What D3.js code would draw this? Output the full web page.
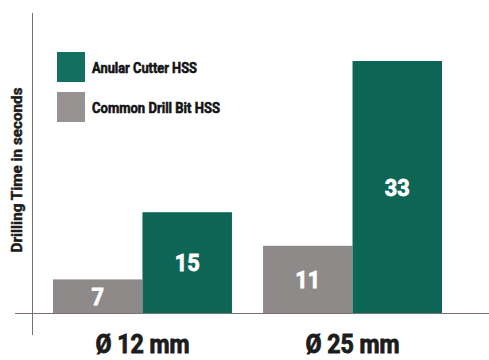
<!DOCTYPE html>
<html>
<head>
<meta charset="utf-8">
<script src="https://cdn.jsdelivr.net/npm/d3@7/dist/d3.min.js"></script>
<style>
  html, body { margin: 0; padding: 0; background: #ffffff; }
  svg { display: block; }
  text { font-family: Roboto, "Open Sans", sans-serif; font-weight: 700; }
</style>
</head>
<body>
<div id="chart"></div>
<script>
// Drilling time per hole diameter, two tool types
const categories = ["Ø 12 mm", "Ø 25 mm"];
const seriesNames = ["Common Drill Bit HSS", "Anular Cutter HSS"];
const drillBitSeconds = [7, 11];
const cutterSeconds = [15, 33];
const legendOrder = ["Anular Cutter HSS", "Common Drill Bit HSS"];
const yTitle = "Drilling Time in seconds";

const W = 489, H = 360;
const colors = { "Anular Cutter HSS": "#0d6655", "Common Drill Bit HSS": "#8e8a8a" };
const swatchColors = { "Anular Cutter HSS": "#137060", "Common Drill Bit HSS": "#979393" };

const rows = categories.map((c, i) => ({
  category: c,
  values: [
    { series: seriesNames[0], value: drillBitSeconds[i] },
    { series: seriesNames[1], value: cutterSeconds[i] }
  ]
}));

const svg = d3.select("#chart").append("svg")
  .attr("width", W).attr("height", H);

const baseY = 313;
const x0 = d3.scaleBand().domain(categories).range([53, 442])
  .paddingInner(0.148).paddingOuter(0);
const x1 = d3.scaleBand().domain(seriesNames).range([0, x0.bandwidth()]).padding(0);
const y = d3.scaleLinear().domain([3, 33]).range([baseY, 61]);

// bars
const groups = svg.append("g").selectAll("g").data(rows).join("g")
  .attr("transform", d => `translate(${x0(d.category)},0)`);

groups.selectAll("rect").data(d => d.values).join("rect")
  .attr("x", d => x1(d.series))
  .attr("y", d => y(d.value))
  .attr("width", x1.bandwidth())
  .attr("height", d => baseY - y(d.value))
  .attr("fill", d => colors[d.series]);

// value labels, centred in each bar
groups.selectAll("text").data(d => d.values).join("text")
  .attr("x", d => x1(d.series) + x1.bandwidth() / 2)
  .attr("y", d => (y(d.value) + baseY) / 2)
  .attr("dy", "0.36em")
  .attr("text-anchor", "middle")
  .attr("fill", "#ffffff")
  .attr("stroke", "#ffffff")
  .attr("stroke-width", 0.8)
  .attr("font-size", 24)
  .attr("textLength", d => String(d.value).length * 12.5)
  .attr("lengthAdjust", "spacingAndGlyphs")
  .text(d => d.value);

// axes lines
svg.append("line")
  .attr("x1", 15).attr("x2", W).attr("y1", baseY + 0.5).attr("y2", baseY + 0.5)
  .attr("stroke", "#7c716e").attr("stroke-width", 1);
svg.append("line")
  .attr("x1", 32.5).attr("x2", 32.5).attr("y1", 13).attr("y2", 335)
  .attr("stroke", "#7c716e").attr("stroke-width", 1);

// category labels via bottom axis (no line / ticks)
const xAxis = svg.append("g")
  .attr("transform", `translate(0,${baseY})`)
  .call(d3.axisBottom(x0).tickSize(0).tickPadding(0));
xAxis.select(".domain").remove();
xAxis.selectAll("text")
  .attr("y", 40)
  .attr("dy", 0)
  .attr("fill", "#1c1c1c")
  .attr("stroke", "#1c1c1c")
  .attr("stroke-width", 0.9)
  .attr("font-family", "Roboto, sans-serif")
  .attr("font-weight", 700)
  .attr("font-size", 26)
  .attr("textLength", 94)
  .attr("lengthAdjust", "spacingAndGlyphs");

// y-axis title
svg.append("text")
  .attr("transform", "translate(22,170) rotate(-90)")
  .attr("text-anchor", "middle")
  .attr("fill", "#1c1c1c")
  .attr("stroke", "#1c1c1c")
  .attr("stroke-width", 0.5)
  .attr("font-size", 14)
  .attr("textLength", 165)
  .attr("lengthAdjust", "spacingAndGlyphs")
  .text(yTitle);

// legend
const legendWidths = { "Anular Cutter HSS": 105, "Common Drill Bit HSS": 128 };
const legend = svg.append("g").selectAll("g").data(legendOrder).join("g")
  .attr("transform", (d, i) => `translate(57,${52 + i * 40})`);
legend.append("rect")
  .attr("width", 28).attr("height", 30)
  .attr("fill", d => swatchColors[d]);
legend.append("text")
  .attr("x", 35).attr("y", 20.5)
  .attr("fill", "#141414")
  .attr("stroke", "#141414")
  .attr("stroke-width", 0.6)
  .attr("font-size", 15)
  .attr("textLength", d => legendWidths[d])
  .attr("lengthAdjust", "spacingAndGlyphs")
  .text(d => d);
</script>
</body>
</html>
